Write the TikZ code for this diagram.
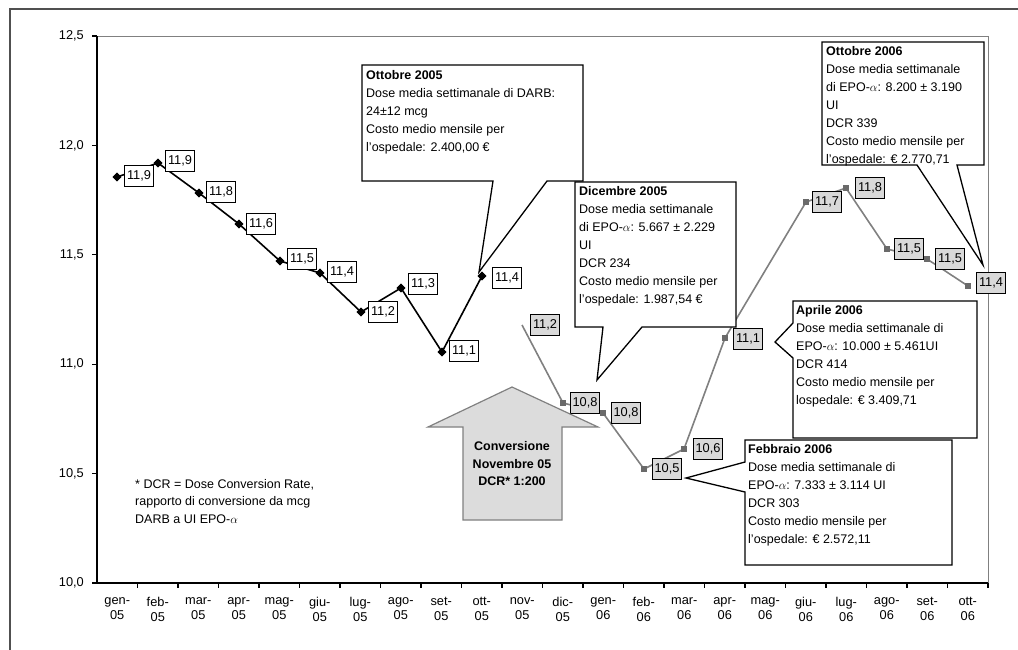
\documentclass[tikz,border=0pt]{standalone}
\usepackage{fontspec}
\setmainfont{Liberation Sans}
\usetikzlibrary{shapes.geometric}
\definecolor{lgrey}{HTML}{D9D9D9}
\definecolor{arrfill}{HTML}{DCDCDC}
\definecolor{sline}{HTML}{808080}
\definecolor{smark}{HTML}{6A6A6A}
\definecolor{framec}{HTML}{505050}
\tikzset{
  lbl/.style={font=\fontsize{12.8}{15}\selectfont},
  wlab/.style={lbl,draw=black,line width=1.1pt,fill=white,anchor=west,inner sep=1.5pt,minimum height=21.5pt,minimum width=29pt},
  glab/.style={wlab,fill=lgrey},
  dmark/.style={diamond,fill=black,inner sep=0pt,minimum size=9pt},
  sqmark/.style={rectangle,fill=smark,inner sep=0pt,minimum size=6.5pt},
  bline/.style={line width=1.6pt,black},
  gline/.style={line width=1.6pt,sline},
  callout/.style={draw=black,line width=1.3pt,fill=white,line join=miter},
  ctext/.style={font=\fontsize{12.5}{18}\selectfont,align=left,anchor=north west,inner sep=0pt},
}
\begin{document}
\begin{tikzpicture}[x=1pt,y=-1pt]
\useasboundingbox (0,0) rectangle (1018,649);
\clip (0,0) rectangle (1018,649);
% outer frame
\draw[framec,line width=1.2pt] (10,660) -- (10,9) -- (1030,9);
% plot area
\draw[sline,line width=1pt] (97,36) -- (988,36) -- (988,583);
\draw[black,line width=1.5pt] (97,36) -- (97,583) -- (988,583);
% y ticks and labels
\foreach \yy/\tt [count=\i] in {36/{12,5},145.4/{12,0},254.8/{11,5},364.2/{11,0},473.6/{10,5},583/{10,0}}{
  \draw[black,line width=1.2pt] (92,\yy) -- (97,\yy);
  \node[lbl,anchor=east,inner sep=0pt] (yl\i) at (84,\yy) {\tt};
}
% x ticks
\foreach \k in {1,...,22}{
  \draw[black,line width=1.2pt] ({97+40.5*\k},583) -- ({97+40.5*\k},588);
}
% x labels
\foreach \m/\yr [count=\i from 0] in {gen/05,feb/05,mar/05,apr/05,mag/05,giu/05,lug/05,ago/05,set/05,ott/05,nov/05,dic/05,gen/06,feb/06,mar/06,apr/06,mag/06,giu/06,lug/06,ago/06,set/06,ott/06}{
  \node[font=\fontsize{12.8}{15}\selectfont,align=center,anchor=north,inner sep=0pt] (xl\i) at ({97+40.5*(\i+0.5)},597.5) {\m-\\\yr};
}
% black series (2005)
\node[dmark] (b0) at (117,177) {};
\node[dmark] (b1) at (158,163) {};
\node[dmark] (b2) at (199,193) {};
\node[dmark] (b3) at (239,224) {};
\node[dmark] (b4) at (280,261) {};
\node[dmark] (b5) at (320,273) {};
\node[dmark] (b6) at (361,312) {};
\node[dmark] (b7) at (401,288) {};
\node[dmark] (b8) at (442,352) {};
\node[dmark] (b9) at (482,276) {};
\draw[bline] (b0.center) -- (b1.center) -- (b2.center) -- (b3.center) -- (b4.center) -- (b5.center) -- (b6.center) -- (b7.center) -- (b8.center) -- (b9.center);
% grey series
\coordinate (g0) at (522,325);
\node[sqmark] (g1) at (563,403) {};
\node[sqmark] (g2) at (603,413) {};
\node[sqmark] (g3) at (644,469) {};
\node[sqmark] (g4) at (684,449) {};
\node[sqmark] (g5) at (725,338) {};
\node[sqmark] (g6) at (806,202) {};
\node[sqmark] (g7) at (846,188) {};
\node[sqmark] (g8) at (887,249) {};
\node[sqmark] (g9) at (927,259) {};
\node[sqmark] (g10) at (968,286) {};
\draw[gline] (g0) -- (g1.center) -- (g2.center) -- (g3.center) -- (g4.center) -- (g5.center) -- (g6.center) -- (g7.center) -- (g8.center) -- (g9.center) -- (g10.center);
\foreach \n in {g1,g2,g3,g4,g5,g6,g7,g8,g9,g10}{\node[sqmark] at (\n) {};}
\foreach \n in {b0,b1,b2,b3,b4,b5,b6,b7,b8,b9}{\node[dmark] at (\n) {};}
% value labels
\node[wlab] (lb0) at (124,176) {11,9};
\node[wlab] (lb1) at (165,161) {11,9};
\node[wlab] (lb2) at (206,192) {11,8};
\node[wlab] (lb3) at (246,224) {11,6};
\node[wlab] (lb4) at (287,259) {11,5};
\node[wlab] (lb5) at (327,272) {11,4};
\node[wlab] (lb6) at (368,312) {11,2};
\node[wlab] (lb7) at (408,284) {11,3};
\node[wlab] (lb8) at (449,351) {11,1};
\node[wlab] (lb9) at (492,278) {11,4};
\node[glab] (lg0) at (530,325) {11,2};
\node[glab] (lg1) at (570,403) {10,8};
\node[glab] (lg2) at (611,413) {10,8};
\node[glab] (lg3) at (652,469) {10,5};
\node[glab] (lg4) at (693,449) {10,6};
\node[glab] (lg5) at (733,339) {11,1};
\node[glab] (lg6) at (812,202) {11,7};
\node[glab] (lg7) at (855,188) {11,8};
\node[glab] (lg8) at (894,249) {11,5};
\node[glab] (lg9) at (935,259) {11,5};
\node[glab] (lg10) at (976,283) {11,4};
% conversion arrow
\draw[fill=arrfill,draw=sline,line width=1.2pt] (512,387) -- (598,427) -- (562,427) -- (562,520) -- (463,520) -- (463,427) -- (428,427) -- cycle;
\node[font=\bfseries\fontsize{12.5}{17.5}\selectfont,align=center,inner sep=0pt] (conv) at (512,464) {Conversione\\Novembre 05\\DCR* 1:200};
% footnote
\node[ctext,font=\fontsize{12.5}{17.5}\selectfont] (note) at (135,479) {* DCR = Dose Conversion Rate,\\rapporto di conversione da mcg\\DARB a UI EPO-$\alpha$};
% callout Ottobre 2005
\draw[callout] (362,65) -- (583,65) -- (583,181) -- (547,181) -- (479,272) -- (493,181) -- (362,181) -- cycle;
\node[ctext] (c1) at (366,70) {\textbf{Ottobre 2005}\\Dose media settimanale di DARB:\\24±12 mcg\\Costo medio mensile per\\l’ospedale: 2.400,00 €};
% callout Dicembre 2005
\draw[callout] (575,182) -- (736,182) -- (736,327) -- (642,327) -- (597,380) -- (603,327) -- (575,327) -- cycle;
\node[ctext] (c2) at (579,186) {\textbf{Dicembre 2005}\\Dose media settimanale\\di EPO-$\alpha$: 5.667 ± 2.229\\UI\\DCR 234\\Costo medio mensile per\\l’ospedale: 1.987,54 €};
% callout Ottobre 2006
\draw[callout] (822,42) -- (984,42) -- (984,165) -- (957,165) -- (983,265) -- (917,165) -- (822,165) -- cycle;
\node[ctext] (c3) at (826,46) {\textbf{Ottobre 2006}\\Dose media settimanale\\di EPO-$\alpha$: 8.200 ± 3.190\\UI\\DCR 339\\Costo medio mensile per\\l’ospedale: € 2.770,71};
% callout Aprile 2006
\draw[callout] (793,301) -- (977,301) -- (977,438) -- (793,438) -- (793,358) -- (775,342) -- (793,323) -- cycle;
\node[ctext] (c4) at (796,305) {\textbf{Aprile 2006}\\Dose media settimanale di\\ EPO-$\alpha$: 10.000 ± 5.461UI\\DCR 414\\Costo medio mensile per\\lospedale: € 3.409,71};
% callout Febbraio 2006
\draw[callout] (745,440) -- (952,440) -- (952,565) -- (745,565) -- (745,492) -- (686,478) -- (745,462) -- cycle;
\node[ctext] (c5) at (748,444) {\textbf{Febbraio 2006}\\Dose media settimanale di\\EPO-$\alpha$: 7.333 ± 3.114 UI\\DCR 303\\Costo medio mensile per\\l’ospedale: € 2.572,11};
\end{tikzpicture}
\end{document}
